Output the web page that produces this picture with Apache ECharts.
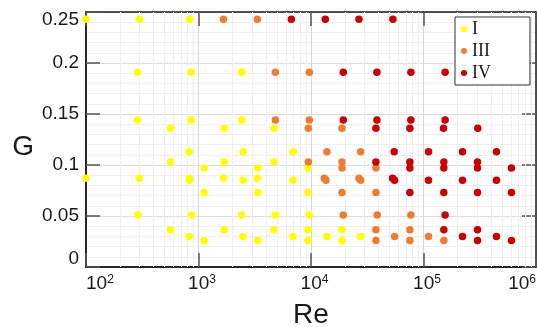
<!DOCTYPE html>
<html>
<head>
<meta charset="utf-8">
<script src="https://cdn.jsdelivr.net/npm/echarts@6/dist/echarts.min.js"></script>
<style>
  html, body { margin: 0; padding: 0; background: #ffffff; }
  #chart { width: 537px; height: 327px; }
</style>
</head>
<body>
<div id="chart"></div>
<script>
// Flow regimes in the (Re, G) plane: each point is [Re, G]
const regimeI = [
  [100, 0.243], [299, 0.243], [831, 0.243],
  [287, 0.191], [861, 0.191], [2425, 0.191],
  [287, 0.144], [861, 0.144], [2425, 0.144],
  [564, 0.136], [1689, 0.136], [4694, 0.136],
  [826, 0.113], [2491, 0.113], [6922, 0.113],
  [564, 0.103], [1689, 0.103], [4694, 0.103],
  [1122, 0.097], [3365, 0.097], [9406, 0.097],
  [100, 0.087], [299, 0.087], [831, 0.087], [1665, 0.087], [3337, 0.087],
  [831, 0.085], [2491, 0.085], [6922, 0.085],
  [1122, 0.073], [3365, 0.073], [9406, 0.073],
  [289, 0.051], [866, 0.051], [2425, 0.051], [4821, 0.051], [9658, 0.051],
  [564, 0.0365], [1689, 0.0365], [4694, 0.0365], [9406, 0.0365], [18850, 0.0365],
  [826, 0.030], [2491, 0.030], [6922, 0.030], [13870, 0.030], [27620, 0.030],
  [1122, 0.026], [3365, 0.026], [9406, 0.026], [18850, 0.026]
];

const regimeIII = [
  [1665, 0.243], [3337, 0.243],
  [4821, 0.191], [9658, 0.191],
  [4821, 0.144], [9658, 0.144],
  [9463, 0.136], [18850, 0.136],
  [13870, 0.113], [27620, 0.113],
  [9463, 0.103], [18850, 0.103],
  [18850, 0.097], [37760, 0.097],
  [13130, 0.087], [26680, 0.087],
  [13590, 0.085], [27620, 0.085],
  [18850, 0.073], [37760, 0.073],
  [19360, 0.051], [38770, 0.051], [77240, 0.051],
  [37760, 0.0365], [75680, 0.0365],
  [55340, 0.030], [110900, 0.030],
  [37760, 0.026], [75680, 0.026], [151600, 0.026]
];

const regimeIV = [
  [6686, 0.243], [13400, 0.243], [26680, 0.243], [53450, 0.243],
  [19360, 0.191], [38540, 0.191], [77240, 0.191], [155700, 0.191],
  [19360, 0.144], [38540, 0.144], [77240, 0.144], [155700, 0.144],
  [37760, 0.136], [75680, 0.136], [150700, 0.136], [303800, 0.136],
  [54880, 0.113], [110900, 0.113], [222100, 0.113], [445200, 0.113],
  [37760, 0.103], [75680, 0.103], [151600, 0.103], [301900, 0.103],
  [75680, 0.097], [151600, 0.097], [301900, 0.097], [604800, 0.097],
  [53120, 0.087],
  [55340, 0.085], [110900, 0.085], [222100, 0.085], [445200, 0.085],
  [75680, 0.073], [151600, 0.073], [301900, 0.073], [604800, 0.073],
  [155700, 0.051],
  [151600, 0.0365], [301900, 0.0365],
  [222100, 0.030], [445200, 0.030],
  [301900, 0.026], [604800, 0.026]
];

const seriesNames = ['I', 'III', 'IV'];
const seriesColors = ['#ffff00', '#ee7d31', '#c80000'];

// Axis ranges and ticks
const reRange = [100, 1e6];
const gRange = [0, 0.25];
const gStep = 0.05;

// Log-decade minor grid positions (2..9 within each decade)
const decadeStarts = [100, 1000, 10000, 100000];
const decadeSteps = [2, 3, 4, 5, 6, 7, 8, 9];
const minorRe = [];
decadeStarts.forEach(d => decadeSteps.forEach(m => minorRe.push(d * m)));

const sans = 'Liberation Sans, Arial, sans-serif';
const serif = 'Liberation Serif, Times New Roman, serif';
const ink = '#1a1a1a';

const chart = echarts.init(document.getElementById('chart'), null, { renderer: 'canvas' });

const pointSeries = [regimeI, regimeIII, regimeIV].map((data, i) => ({
  name: seriesNames[i],
  type: 'scatter',
  data: data,
  symbol: 'circle',
  symbolSize: 7.5,
  xAxisIndex: 0,
  yAxisIndex: 0,
  z: 3 + i,
  itemStyle: { color: seriesColors[i], opacity: 1, borderWidth: 0 },
  emphasis: { disabled: true },
  animation: false
}));

const option = {
  backgroundColor: '#ffffff',
  animation: false,
  grid: { left: 86, right: 1, top: 12, bottom: 60, containLabel: false, outerBoundsMode: 'none' },
  legend: {
    data: seriesNames,
    orient: 'vertical',
    left: 455,
    top: 17,
    padding: [3, 39, 3, 6],
    itemGap: 4,
    itemWidth: 6,
    itemHeight: 6,
    icon: 'circle',
    backgroundColor: '#ffffff',
    borderColor: '#333333',
    borderWidth: 1,
    borderRadius: 0,
    selectedMode: false,
    textStyle: { fontFamily: serif, fontSize: 18, color: ink }
  },
  xAxis: [
    {
      type: 'log',
      logBase: 10,
      min: reRange[0],
      max: reRange[1],
      position: 'bottom',
      name: 'Re',
      nameLocation: 'middle',
      nameGap: 34,
      nameTextStyle: { fontFamily: sans, fontSize: 28, color: ink },
      axisLine: { show: true, onZero: false, lineStyle: { color: '#262626', width: 2 } },
      axisTick: { show: true, inside: true, length: 14, lineStyle: { color: '#555555', width: 1.5 } },
      axisLabel: {
        margin: 7,
        showMinLabel: true,
        showMaxLabel: true,
        alignMinLabel: 'left',
        alignMaxLabel: 'right',
        formatter: function (v) {
          const e = Math.round(Math.log10(v));
          return (e === 2 ? '' : '{pad|}') + '{b|10}{s|' + e + '}';
        },
        rich: {
          b: { fontFamily: sans, fontSize: 19, color: ink },
          s: { fontFamily: sans, fontSize: 12, color: ink, verticalAlign: 'top', lineHeight: 12 },
          pad: { width: 7 }
        }
      },
      splitLine: { show: true, lineStyle: { color: '#d9d9d9', width: 1 } },
      minorTick: { show: false },
      minorSplitLine: { show: false }
    },
    {
      type: 'log',
      logBase: 10,
      min: reRange[0],
      max: reRange[1],
      position: 'top',
      axisLine: { show: true, onZero: false, lineStyle: { color: '#1a1a1a', width: 1.5 } },
      axisTick: { show: true, inside: true, length: 14, lineStyle: { color: '#555555', width: 1.5 } },
      axisLabel: { show: false },
      splitLine: { show: false }
    }
  ],
  yAxis: [
    {
      type: 'value',
      min: gRange[0],
      max: gRange[1],
      interval: gStep,
      position: 'left',
      name: 'G',
      nameLocation: 'middle',
      nameRotate: 0,
      nameGap: 52,
      nameTextStyle: { fontFamily: sans, fontSize: 28, color: ink, verticalAlign: 'top', lineHeight: 16 },
      axisLine: { show: true, onZero: false, lineStyle: { color: '#262626', width: 2 } },
      axisTick: { show: true, inside: true, length: 14, lineStyle: { color: '#555555', width: 1.5 } },
      axisLabel: {
        margin: 7,
        fontFamily: sans,
        fontSize: 19,
        lineHeight: 16,
        color: ink,
        showMinLabel: true,
        showMaxLabel: true,
        verticalAlignMinLabel: 'bottom',
        verticalAlignMaxLabel: 'top'
      },
      splitLine: { show: true, lineStyle: { color: '#dedede', width: 1 } },
      minorTick: { show: false, splitNumber: 5 },
      minorSplitLine: { show: true, lineStyle: { color: '#efefef', width: 1 } }
    },
    {
      type: 'value',
      min: gRange[0],
      max: gRange[1],
      interval: gStep,
      position: 'right',
      axisLine: { show: true, onZero: false, lineStyle: { color: '#1a1a1a', width: 1.5 } },
      axisTick: { show: true, inside: true, length: 14, lineStyle: { color: '#555555', width: 1.5 } },
      axisLabel: { show: false },
      splitLine: { show: false }
    }
  ],
  series: [
    {
      // minor vertical grid for the logarithmic Re axis
      name: 'minor-grid',
      type: 'scatter',
      data: [],
      xAxisIndex: 0,
      yAxisIndex: 0,
      silent: true,
      z: 1,
      markLine: {
        z: 1,
        silent: true,
        symbol: ['none', 'none'],
        label: { show: false },
        emphasis: { disabled: true },
        animation: false,
        lineStyle: { color: '#efefef', width: 1, type: 'solid' },
        data: minorRe.map(v => ({ xAxis: v }))
      }
    }
  ].concat(pointSeries)
};

chart.setOption(option);
</script>
</body>
</html>
